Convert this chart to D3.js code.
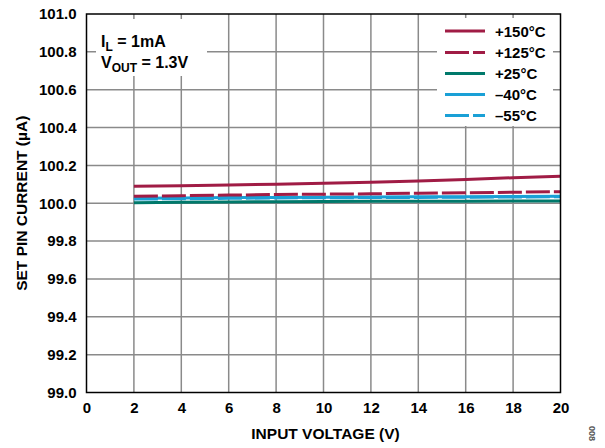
<!DOCTYPE html>
<html><head><meta charset="utf-8">
<script src="https://cdn.jsdelivr.net/npm/d3@7"></script>
<style>body{margin:0;background:#fff}svg{display:block}text{font-family:Arial,"Liberation Sans",sans-serif;font-weight:bold}</style>
</head><body>
<svg id="c" width="605" height="448"></svg>
<script>
const voltages = [2,4,6,8,10,12,14,16,18,20];
const s150 = [100.090,100.093,100.097,100.101,100.106,100.111,100.117,100.125,100.135,100.143];
const s125 = [100.037,100.040,100.043,100.046,100.048,100.050,100.053,100.055,100.058,100.061];
const s25  = [100.003,100.005,100.007,100.008,100.009,100.010,100.011,100.011,100.012,100.012];
const sm40 = [100.026,100.028,100.030,100.031,100.032,100.033,100.034,100.035,100.036,100.037];
const sm55 = [100.022,100.024,100.026,100.028,100.029,100.030,100.031,100.032,100.033,100.034];
const xTicks = [0,2,4,6,8,10,12,14,16,18,20];
const yTicks = [99.0,99.2,99.4,99.6,99.8,100.0,100.2,100.4,100.6,100.8,101.0];
const seriesNames = ["+150°C","+125°C","+25°C","–40°C","–55°C"];
const seriesData = [s150,s125,s25,sm40,sm55];
const seriesColors = ["#a01c45","#a01c45","#00796b","#1aa0d6","#1aa0d6"];
const seriesDash = [null,"24,4",null,null,"24,4"];

const svg = d3.select("#c");
const L=86.5, R=560.5, T=14, B=392.5;
const x = d3.scaleLinear().domain([0,20]).range([L,R]);
const y = d3.scaleLinear().domain([99,101]).range([B,T]);
const FONT = "Arial, 'Liberation Sans', sans-serif";

// grid
const g = svg.append("g");
g.selectAll(".vg").data(xTicks.slice(1,-1)).enter().append("line")
  .attr("x1",d=>x(d)).attr("x2",d=>x(d)).attr("y1",T).attr("y2",B)
  .attr("stroke","#8a8a8a").attr("stroke-width",1.5);
g.selectAll(".hg").data(yTicks.slice(1,-1)).enter().append("line")
  .attr("x1",L).attr("x2",R).attr("y1",d=>y(d)).attr("y2",d=>y(d))
  .attr("stroke","#8a8a8a").attr("stroke-width",1.5);

// white boxes over grid
svg.append("rect").attr("x",96).attr("y",19).attr("width",111).attr("height",57).attr("fill","#fff");
svg.append("rect").attr("x",437).attr("y",18).attr("width",116).attr("height",108).attr("fill","#fff");

// series lines (draw lower first)
const line = d3.line().x((d,i)=>x(voltages[i])).y(d=>y(d));
const order = [4,3,2,1,0];
order.forEach(k=>{
  svg.append("path").datum(seriesData[k]).attr("d",line)
    .attr("fill","none").attr("stroke",seriesColors[k]).attr("stroke-width",3)
    .attr("stroke-dasharray",seriesDash[k]);
});

// frame
svg.append("rect").attr("x",L).attr("y",T).attr("width",R-L).attr("height",B-T)
  .attr("fill","none").attr("stroke","#000").attr("stroke-width",1.5);

// axes
const xAxis = d3.axisBottom(x).tickValues(xTicks).tickSize(0).tickPadding(10).tickFormat(d3.format("d"));
const xa = svg.append("g").attr("transform",`translate(0,${B})`).call(xAxis);
xa.select(".domain").remove();
xa.selectAll("text").attr("font-size",15).attr("font-family",FONT).attr("font-weight","bold").attr("fill","#000");
const yAxis = d3.axisLeft(y).tickValues(yTicks).tickSize(0).tickPadding(10).tickFormat(d3.format(".1f"));
const ya = svg.append("g").attr("transform",`translate(${L},0)`).call(yAxis);
ya.select(".domain").remove();
ya.selectAll("text").attr("font-size",15).attr("font-family",FONT).attr("font-weight","bold").attr("fill","#000");

// axis titles
svg.append("text").attr("x",(L+R)/2+2).attr("y",439).attr("text-anchor","middle").attr("font-size",15.5).text("INPUT VOLTAGE (V)");
svg.append("text").attr("transform",`translate(27,${(T+B)/2}) rotate(-90)`).attr("text-anchor","middle").attr("font-size",15.5).text("SET PIN CURRENT (µA)");

// annotation
const a1 = svg.append("text").attr("x",101).attr("y",47).attr("font-size",16);
a1.append("tspan").text("I");
a1.append("tspan").attr("font-size",12).attr("dy",4).text("L");
a1.append("tspan").attr("dy",-4).text(" = 1mA");
const a2 = svg.append("text").attr("x",101).attr("y",68).attr("font-size",16);
a2.append("tspan").text("V");
a2.append("tspan").attr("font-size",12).attr("dy",4).text("OUT");
a2.append("tspan").attr("dy",-4).text(" = 1.3V");

// legend
const ly = [31,52.5,73.5,94.5,115.5];
seriesNames.forEach((n,i)=>{
  svg.append("line").attr("x1",445).attr("x2",485).attr("y1",ly[i]).attr("y2",ly[i])
    .attr("stroke",seriesColors[i]).attr("stroke-width",3).attr("stroke-dasharray",seriesDash[i]);
  svg.append("text").attr("x",495).attr("y",ly[i]+5.5).attr("font-size",15).text(n);
});

// figure number
svg.append("text").attr("transform","translate(589,426) rotate(90)").attr("font-size",9)
  .attr("font-weight","normal").attr("fill","#555").text("008");
</script>
</body></html>
